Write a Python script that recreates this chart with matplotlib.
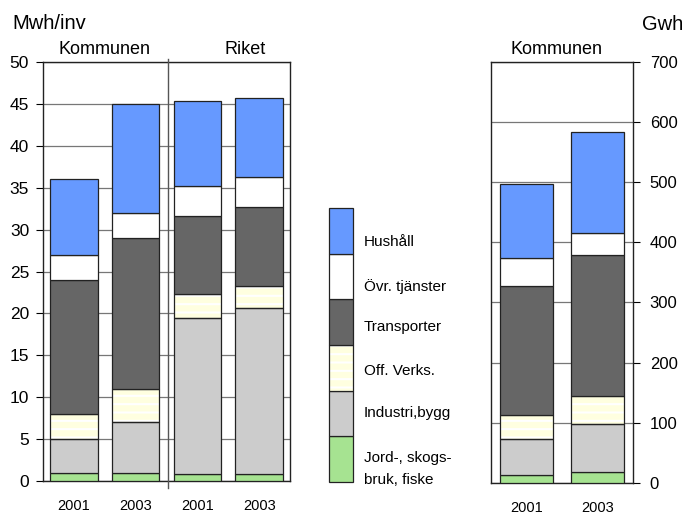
import matplotlib
matplotlib.use("Agg")
import matplotlib.pyplot as plt

plt.rcParams['font.family'] = ['Liberation Sans', 'DejaVu Sans']
plt.rcParams['hatch.linewidth'] = 1.5

# categories, bottom -> top
kategorier = ["Jord-, skogs-\nbruk, fiske", "Industri,bygg", "Off. Verks.",
              "Transporter", "Övr. tjänster", "Hushåll"]
farger = ["#A6E391", "#CCCCCC", "#FFFFE0", "#666666", "#FFFFFF", "#6699FF"]

ar_vanster = ["2001", "2003", "2001", "2003"]
# Mwh/inv: Kommunen 2001, Kommunen 2003, Riket 2001, Riket 2003
mwh_per_inv = [
    [1.0, 1.0, 0.88, 0.82],     # Jord-, skogsbruk, fiske
    [4.0, 6.0, 18.56, 19.8],    # Industri,bygg
    [3.0, 4.0, 2.82, 2.62],     # Off. Verks.
    [16.0, 18.0, 9.34, 9.45],   # Transporter
    [3.0, 3.0, 3.6, 3.54],      # Övr. tjänster
    [9.0, 13.0, 10.1, 9.43],    # Hushåll
]

ar_hoger = ["2001", "2003"]
# Gwh, Kommunen
gwh = [
    [14, 19],
    [59, 78.5],
    [40, 46.5],
    [213.5, 234],
    [47, 38],
    [124, 167],
]

kant = "#222222"


def stapla(ax, data, bredd):
    n = len(data[0])
    botten = [0.0] * n
    for vals, farg in zip(data, farger):
        x = list(range(n))
        if farg == "#FFFFE0":
            ax.bar(x, vals, bredd, bottom=botten, color=farg, hatch='--',
                   edgecolor='white', linewidth=0, zorder=2)
            ax.bar(x, vals, bredd, bottom=botten, fill=False,
                   edgecolor=kant, linewidth=0.9, zorder=3)
        else:
            ax.bar(x, vals, bredd, bottom=botten, color=farg,
                   edgecolor=kant, linewidth=0.9, zorder=3)
        botten = [b + v for b, v in zip(botten, vals)]


fig = plt.figure(figsize=(6.86, 5.17), dpi=100)

# left chart
ax1 = fig.add_axes([43 / 686, 36 / 517, 247 / 686, 419 / 517])
stapla(ax1, mwh_per_inv, 0.77)
ax1.set_xlim(-0.5, 3.5)
ax1.set_ylim(0, 50)
ax1.set_yticks(range(0, 51, 5))
ax1.tick_params(axis='y', labelsize=12.5, length=5, pad=5, direction='out')
ax1.set_xticks(range(4))
ax1.set_xticklabels(ar_vanster, fontsize=10.5)
ax1.tick_params(axis='x', length=0, pad=13)
ax1.grid(axis='y', color='#777777', linewidth=0.9, zorder=1)
ax1.set_axisbelow(True)
for s in ax1.spines.values():
    s.set_color('#222222')
    s.set_linewidth(1.0)
ax1.plot([1.53, 1.53], [-0.8, 50.4], color='#555555', linewidth=1.0,
         clip_on=False, zorder=4)
fig.text(12 / 686, 1 - 23.5 / 517, "Mwh/inv", fontsize=14.5, ha='left', va='center')
fig.text(104 / 686, 1 - 49 / 517, "Kommunen", fontsize=13, ha='center', va='center')
fig.text(245 / 686, 1 - 49 / 517, "Riket", fontsize=13, ha='center', va='center')

# right chart
ax2 = fig.add_axes([491 / 686, 34 / 517, 142 / 686, 421.3 / 517])
stapla(ax2, gwh, 0.76)
ax2.set_xlim(-0.5, 1.5)
ax2.set_ylim(0, 700)
ax2.set_yticks(range(0, 701, 100))
ax2.yaxis.tick_right()
ax2.tick_params(axis='y', labelsize=12, length=5, pad=7, direction='out')
ax2.set_xticks(range(2))
ax2.set_xticklabels(ar_hoger, fontsize=10.5)
ax2.tick_params(axis='x', length=0, pad=13)
ax2.grid(axis='y', color='#777777', linewidth=0.9, zorder=1)
ax2.set_axisbelow(True)
for s in ax2.spines.values():
    s.set_color('#222222')
    s.set_linewidth(1.0)
fig.text(642 / 686, 1 - 24 / 517, "Gwh", fontsize=14.5, ha='left', va='center')
fig.text(557 / 686, 1 - 50 / 517, "Kommunen", fontsize=13, ha='center', va='center')

# legend
axl = fig.add_axes([329 / 686, 35 / 517, 24 / 686, 274 / 517])
axl.set_xlim(-0.5, 0.5)
axl.set_ylim(0, 6)
axl.axis('off')
text_y = [0.29, 1.52, 2.42, 3.40, 4.29, 5.26]
for i, (namn, farg) in enumerate(zip(kategorier, farger)):
    if farg == "#FFFFE0":
        axl.bar(0, 1, 1.0, bottom=i, color=farg, hatch='--',
                edgecolor='white', linewidth=0, clip_on=False)
        axl.bar(0, 1, 1.0, bottom=i, fill=False, edgecolor=kant,
                linewidth=0.9, clip_on=False)
    else:
        axl.bar(0, 1, 1.0, bottom=i, color=farg, edgecolor=kant,
                linewidth=0.9, clip_on=False)
    axl.text(0.96, text_y[i], namn, fontsize=11, ha='left', va='center',
             linespacing=1.75)

fig.savefig("out.png", dpi=100)
